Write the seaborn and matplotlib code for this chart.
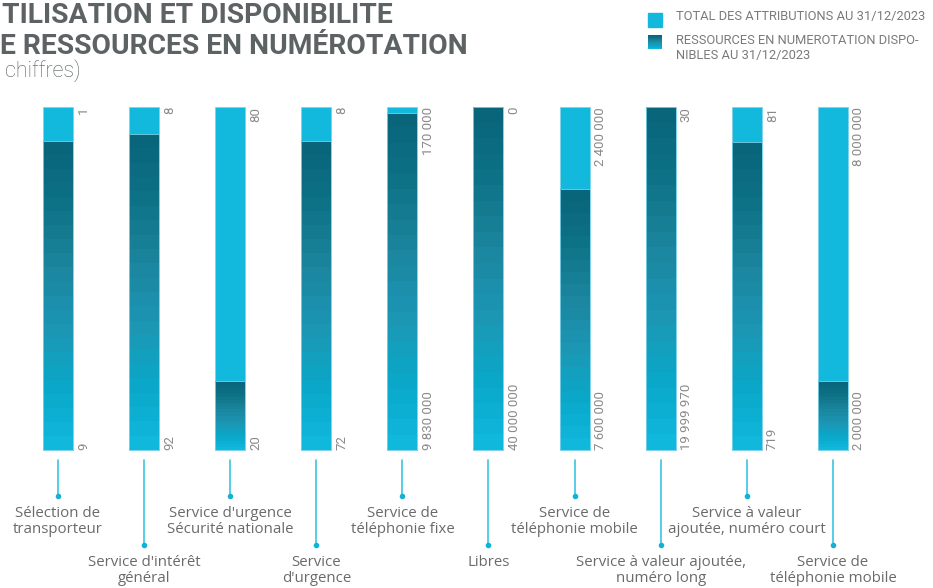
import numpy as np
import pandas as pd
import matplotlib
matplotlib.use("Agg")
import matplotlib.pyplot as plt
import seaborn as sns
from matplotlib.colors import LinearSegmentedColormap, ListedColormap
from matplotlib.patches import Rectangle
from matplotlib.transforms import blended_transform_factory

# ---------------- data ----------------
categories = [
    "Sélection de\ntransporteur",
    "Service d'intérêt\ngénéral",
    "Service d'urgence\nSécurité nationale",
    "Service\nd'urgence",
    "Service de\ntéléphonie fixe",
    "Libres",
    "Service de\ntéléphonie mobile",
    "Service à valeur ajoutée,\nnuméro long",
    "Service à valeur\najoutée, numéro court",
    "Service de\ntéléphonie mobile",
]
attributions = [1, 8, 80, 8, 170000, 0, 2400000, 30, 81, 8000000]
disponibles = [9, 92, 20, 72, 9830000, 40000000, 7600000, 19999970, 719, 2000000]
legend_labels = ["TOTAL DES ATTRIBUTIONS AU 31/12/2023",
                 "RESSOURCES EN NUMEROTATION DISPO-\nNIBLES AU 31/12/2023"]
title_lines = ["TILISATION ET DISPONIBILITE", "E RESSOURCES EN NUMÉROTATION"]
subtitle = "chiffres)"

# ---------------- derived ----------------
keys = [f"k{i}" for i in range(len(categories))]
tot = np.array(attributions, float) + np.array(disponibles, float)
df = pd.DataFrame({
    "key": keys,
    "total_pct": (np.array(attributions) + np.array(disponibles)) / tot * 100,
    "dispo_pct": np.array(disponibles) / tot * 100,
})

def fmt(v):
    return f"{v:,}".replace(",", " ")

W, H = 933, 588
CYAN = "#12b9dd"
GREY_NUM = "#8a8a8a"
GREY_TXT = "#6a6a6a"
TITLE_C = "#5d6364"

grad_cmap = LinearSegmentedColormap.from_list(
    "g", [(0.0, "#10b8dc"), (0.18, "#0aa8c9"), (0.38, "#1c98b5"),
          (0.58, "#1b87a0"), (0.8, "#0f7387"), (1.0, "#08657a")])
NB = 22
band = ListedColormap(grad_cmap(np.linspace(0, 1, NB)))

sns.set_theme(style="white")
plt.rcParams["font.family"] = ["Roboto", "DejaVu Sans"]

fig = plt.figure(figsize=(W / 100, H / 100), dpi=100)
ax = fig.add_axes([0, 0, 1, 1])

bar_w = 30 / 86.1
sns.barplot(data=df, x="key", y="total_pct", order=keys, color=CYAN,
            saturation=1, width=bar_w, ax=ax, edgecolor="#7fd3ea", linewidth=0.6)
sns.barplot(data=df, x="key", y="dispo_pct", order=keys, color="#0f7387",
            saturation=1, width=bar_w, ax=ax, edgecolor="#7fd3ea", linewidth=0.6)

# pixel mapping
px_per_unit_x = 86.1
x0_px = 58
xlim = (-x0_px / px_per_unit_x, (W - x0_px) / px_per_unit_x)
top_px, bot_px = 107, 450
ppu_y = (bot_px - top_px) / 100
ylim = (-(H - bot_px) / ppu_y, 100 + top_px / ppu_y)

# gradient fill of the "disponibles" segments
for p in ax.containers[1]:
    bx, by = p.get_x(), p.get_y()
    bw, bh = p.get_width(), p.get_height()
    if bh <= 0:
        continue
    grad = np.linspace(0, 1, NB).reshape(-1, 1)
    im = ax.imshow(grad, cmap=band, origin="lower", aspect="auto",
                   extent=[bx, bx + bw, by, by + bh], interpolation="nearest",
                   zorder=p.get_zorder() + 0.1)
    im.set_clip_path(p)
    p.set_facecolor("none")
    p.set_zorder(p.get_zorder() + 0.2)

ax.set_xlim(*xlim)
ax.set_ylim(*ylim)
ax.axis("off")

# value labels
for i, (a, d) in enumerate(zip(attributions, disponibles)):
    xr = i + bar_w / 2
    ax.annotate(fmt(a), xy=(xr, 100), xytext=(3, 0), textcoords="offset points",
                rotation=90, ha="left", va="top", fontsize=9.5, color=GREY_NUM,
                fontweight="normal")
    ax.annotate(fmt(d), xy=(xr, 0), xytext=(3, 0), textcoords="offset points",
                rotation=90, ha="left", va="bottom", fontsize=9.5, color=GREY_NUM,
                fontweight="normal")

# category labels with connectors
bt = blended_transform_factory(ax.transData, fig.transFigure)
fy = lambda py: 1 - py / H
for i, lab in enumerate(categories):
    upper = (i % 2 == 0)
    dot_y = 496 if upper else 545
    txt_y = 506 if upper else 555
    ax.plot([i, i], [fy(460), fy(dot_y)], transform=bt, color="#3cc3e3",
            lw=1.2, clip_on=False)
    ax.plot([i], [fy(dot_y)], transform=bt, marker="o", ms=3, color="#12b2d8",
            clip_on=False)
    ax.text(i, fy(txt_y), lab, transform=bt, ha="center", va="top",
            fontsize=10.8, color=GREY_TXT, family=["Open Sans", "DejaVu Sans"],
            linespacing=1.12)

# title
fig.text(2 / W, fy(23), title_lines[0], ha="left", va="baseline",
         fontsize=20.3, fontweight="bold", color=TITLE_C)
fig.text(0 / W, fy(54), title_lines[1], ha="left", va="baseline",
         fontsize=20.3, fontweight="bold", color=TITLE_C)
fig.text(5 / W, fy(77), subtitle, ha="left", va="baseline",
         fontsize=15.5, fontweight="light", color="#555a5b")

# legend
fig.patches.append(Rectangle((648 / W, fy(27)), 14 / W, 14 / H,
                             transform=fig.transFigure, color=CYAN))
lax = fig.add_axes([648 / W, fy(49), 14 / W, 14 / H])
lax.imshow(np.linspace(0, 1, NB).reshape(-1, 1), cmap=band, origin="lower",
           aspect="auto", interpolation="nearest")
lax.axis("off")
fig.text(676 / W, fy(10), legend_labels[0], ha="left", va="top",
         fontsize=9.3, fontweight="normal", color="#7a7a7a")
fig.text(676 / W, fy(34), legend_labels[1], ha="left", va="top",
         fontsize=9.3, fontweight="normal", color="#7a7a7a", linespacing=1.2,
         multialignment="left")

fig.savefig("out.png", dpi=100)
